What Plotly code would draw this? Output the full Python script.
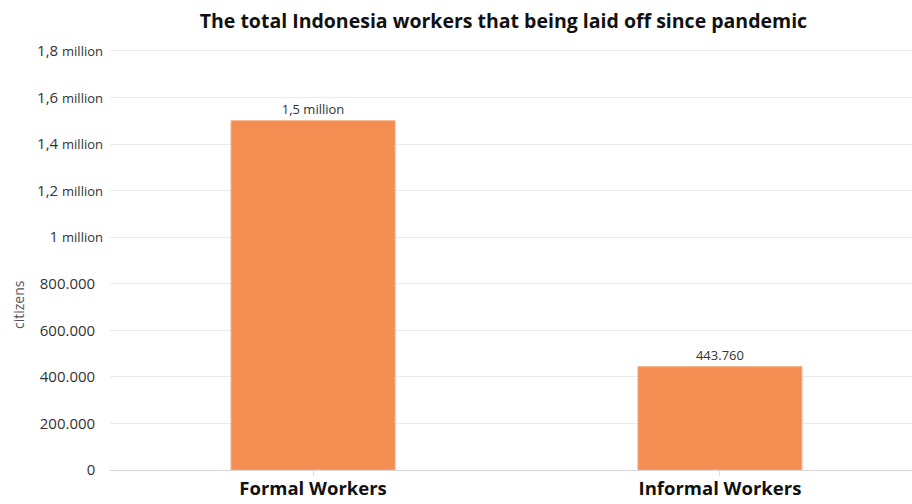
import plotly.graph_objects as go

categories = ["Formal Workers", "Informal Workers"]
values = [1500000, 443760]
value_labels = ["1,5 million", "443.760"]
tick_vals = [0, 200000, 400000, 600000, 800000, 1000000, 1200000, 1400000, 1600000, 1800000]
tick_text = ["0\u00a0\u00a0", "200.000\u00a0\u00a0", "400.000\u00a0\u00a0", "600.000\u00a0\u00a0",
             "800.000\u00a0\u00a0",
             "1 <span style='font-size:13px'>million</span>",
             "1,2 <span style='font-size:13px'>million</span>",
             "1,4 <span style='font-size:13px'>million</span>",
             "1,6 <span style='font-size:13px'>million</span>",
             "1,8 <span style='font-size:13px'>million</span>"]

FONT = "Open Sans"

fig = go.Figure()
fig.add_trace(go.Bar(
    x=categories, y=values,
    text=value_labels, textposition="outside",
    textfont=dict(size=13, color="#333333", family=FONT),
    cliponaxis=False,
    width=0.403,
    marker=dict(color="#F38D52", line=dict(color="#F6AC7F", width=1)),
))

fig.update_layout(
    width=912, height=504,
    margin=dict(l=110, r=0, t=46, b=34),
    paper_bgcolor="white", plot_bgcolor="white",
    font=dict(family=FONT, color="#333333"),
    showlegend=False,
    title=dict(text="<b>The total Indonesia workers that being laid off since pandemic</b>",
               x=0.552, xanchor="center", y=0.958, yanchor="middle",
               font=dict(size=19.5, color="#111111", family=FONT)),
    xaxis=dict(range=[-0.499, 1.472], showgrid=False, showline=False, automargin=False,
               ticks="outside", ticklen=5, tickcolor="#DDDDDD",
               ticklabelstandoff=-3,
               tickfont=dict(size=18.5, color="#111111", family=FONT),
               tickprefix="<b>", ticksuffix="</b>"),
    yaxis=dict(range=[0, 1821000], tickvals=tick_vals, ticktext=tick_text, automargin=False,
               gridcolor="#EBEBEB", gridwidth=1, zeroline=True, zerolinecolor="#D6D6D6",
               zerolinewidth=1, ticks="", ticklabelstandoff=6,
               tickfont=dict(size=15, color="#333333", family=FONT)),
)
fig.add_annotation(text="citizens", textangle=-90,
                   x=(18 - 110) / 802, y=(470 - 305) / 424,
                   xref="paper", yref="paper", xanchor="center", yanchor="middle",
                   showarrow=False, font=dict(size=14, color="#555555", family=FONT))

fig.write_html("out.html")
